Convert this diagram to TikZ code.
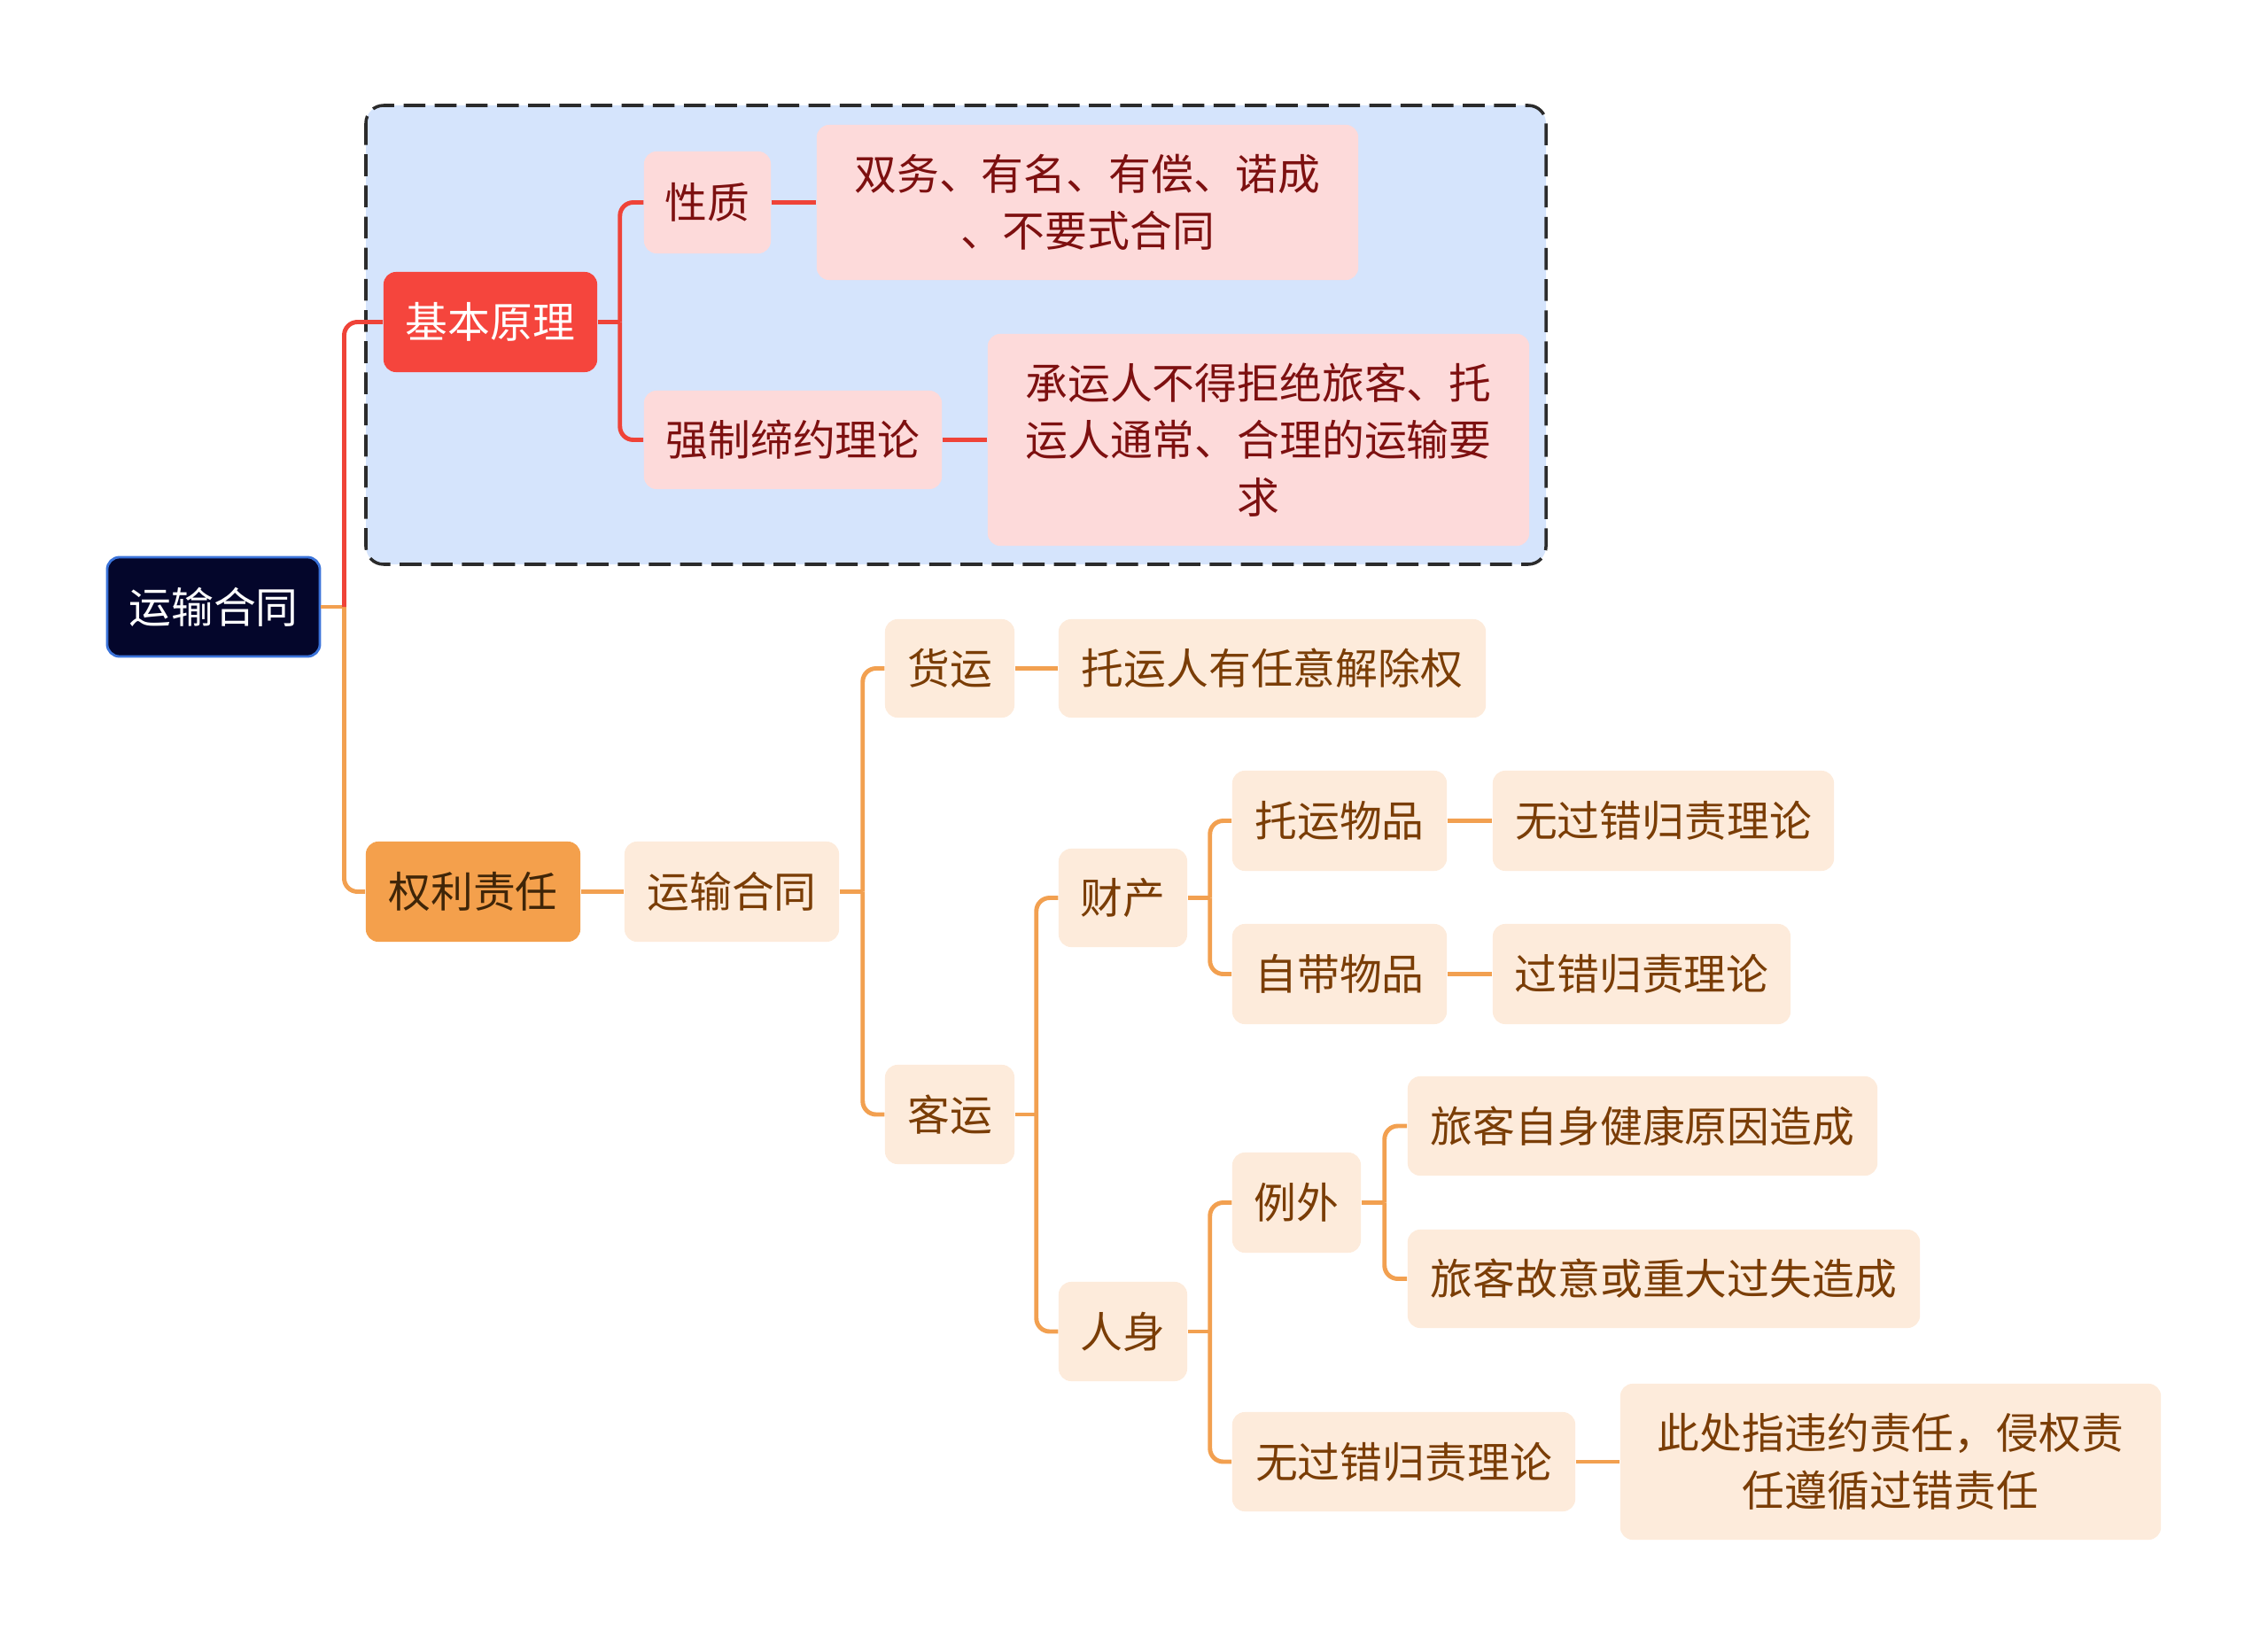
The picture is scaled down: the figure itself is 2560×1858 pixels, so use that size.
\documentclass[tikz,border=0pt]{standalone}
\usepackage{fontspec}
\newfontfamily\cjk{Noto Sans CJK SC}
\definecolor{rootfill}{HTML}{04062B}
\definecolor{rootborder}{HTML}{3B73D9}
\definecolor{redfill}{HTML}{F5453D}
\definecolor{redline}{HTML}{EF4338}
\definecolor{pinkfill}{HTML}{FDDADA}
\definecolor{pinktext}{HTML}{7D1010}
\definecolor{regionfill}{HTML}{D5E4FC}
\definecolor{dashcol}{HTML}{2B2B2B}
\definecolor{orangefill}{HTML}{F4A04C}
\definecolor{orangetext}{HTML}{3F2508}
\definecolor{orangeline}{HTML}{F2A050}
\definecolor{beigefill}{HTML}{FDEBDB}
\definecolor{browntext}{HTML}{7A3D06}
\begin{document}
\begin{tikzpicture}[x=0.01cm,y=-0.01cm,
  base/.style={rounded corners=0.14cm, inner sep=0pt, align=center,
    font=\cjk\fontsize{13.6}{18.3}\selectfont},
  rootbox/.style={base, fill=rootfill, draw=rootborder, line width=0.8pt, text=white},
  redbox/.style={base, fill=redfill, text=white},
  pinkbox/.style={base, fill=pinkfill, text=pinktext},
  orangebox/.style={base, fill=orangefill, text=orangetext},
  beigebox/.style={base, fill=beigefill, text=browntext},
  rline/.style={draw=redline, line width=1.4pt, rounded corners=0.15cm},
  oline/.style={draw=orangeline, line width=1.4pt, rounded corners=0.15cm},
]
\useasboundingbox (0,0) rectangle (2560,1858);
% region
\draw[fill=regionfill, draw=dashcol, line width=1pt, dash pattern=on 7pt off 3pt, rounded corners=0.2cm] (413,119) rectangle (1745,637);

% nodes
\node[rootbox, minimum width=2.40cm, minimum height=1.12cm] (root) at (241,685) {运输合同};
\node[redbox, minimum width=2.41cm, minimum height=1.13cm] (jb) at (553.5,363.5) {基本原理};
\node[pinkbox, minimum width=1.43cm, minimum height=1.15cm] (xz) at (798.5,228.5) {性质};
\node[pinkbox, minimum width=6.11cm, minimum height=1.75cm] (sw) at (1227.5,228.5) {双务、有名、有偿、诺成\\、不要式合同};
\node[pinkbox, minimum width=3.36cm, minimum height=1.11cm] (qz) at (895,496.5) {强制缔约理论};
\node[pinkbox, minimum width=6.11cm, minimum height=2.39cm] (cy) at (1420.5,496.5) {承运人不得拒绝旅客、托\\运人通常、合理的运输要\\求};

\node[orangebox, minimum width=2.42cm, minimum height=1.13cm] (ql) at (534,1006.5) {权利责任};
\node[beigebox, minimum width=2.42cm, minimum height=1.13cm] (ys) at (826,1006.5) {运输合同};
\node[beigebox, minimum width=1.46cm, minimum height=1.11cm] (hy) at (1072,754.5) {货运};
\node[beigebox, minimum width=4.82cm, minimum height=1.11cm] (tyr) at (1436,754.5) {托运人有任意解除权};
\node[beigebox, minimum width=1.46cm, minimum height=1.12cm] (ky) at (1072,1258) {客运};
\node[beigebox, minimum width=1.45cm, minimum height=1.11cm] (cc) at (1267.5,1013.5) {财产};
\node[beigebox, minimum width=2.42cm, minimum height=1.13cm] (tywp) at (1512,926.5) {托运物品};
\node[beigebox, minimum width=3.85cm, minimum height=1.13cm] (wgca) at (1877.5,926.5) {无过错归责理论};
\node[beigebox, minimum width=2.42cm, minimum height=1.13cm] (zdwp) at (1512,1099.5) {自带物品};
\node[beigebox, minimum width=3.36cm, minimum height=1.13cm] (gc) at (1853,1099.5) {过错归责理论};
\node[beigebox, minimum width=1.45cm, minimum height=1.12cm] (rs) at (1267.5,1503) {人身};
\node[beigebox, minimum width=1.45cm, minimum height=1.13cm] (lw) at (1463.5,1357.5) {例外};
\node[beigebox, minimum width=5.30cm, minimum height=1.12cm] (lka) at (1854,1271) {旅客自身健康原因造成};
\node[beigebox, minimum width=5.78cm, minimum height=1.11cm] (lkb) at (1878,1443.5) {旅客故意或重大过失造成};
\node[beigebox, minimum width=3.87cm, minimum height=1.12cm] (wgcb) at (1584.5,1650) {无过错归责理论};
\node[beigebox, minimum width=6.10cm, minimum height=1.76cm] (cz) at (2134,1650) {此处指违约责任，侵权责\\任遵循过错责任};

% connectors
\draw[oline] (root.east) -- ++(26,0) coordinate (rj);
\draw[oline] (rj) |- (ql.west);
\draw[rline] (rj) |- (jb.west);

\draw[rline] (jb.east) -- ++(25,0) coordinate (jbj);
\draw[rline] (jbj) |- (xz.west);
\draw[rline] (jbj) |- (qz.west);
\draw[rline] (xz.east) -- (sw.west);
\draw[rline] (qz.east) -- (cy.west);

\draw[oline] (ql.east) -- (ys.west);
\draw[oline] (ys.east) -- ++(26,0) coordinate (ysj);
\draw[oline] (ysj) |- (hy.west);
\draw[oline] (ysj) |- (ky.west);
\draw[oline] (hy.east) -- (tyr.west);

\draw[oline] (ky.east) -- ++(24,0) coordinate (kyj);
\draw[oline] (kyj) |- (cc.west);
\draw[oline] (kyj) |- (rs.west);

\draw[oline] (cc.east) -- ++(25,0) coordinate (ccj);
\draw[oline] (ccj) |- (tywp.west);
\draw[oline] (ccj) |- (zdwp.west);
\draw[oline] (tywp.east) -- (wgca.west);
\draw[oline] (zdwp.east) -- (gc.west);

\draw[oline] (rs.east) -- ++(25,0) coordinate (rsj);
\draw[oline] (rsj) |- (lw.west);
\draw[oline] (rsj) |- (wgcb.west);
\draw[oline] (wgcb.east) -- (cz.west);

\draw[oline] (lw.east) -- ++(26,0) coordinate (lwj);
\draw[oline] (lwj) |- (lka.west);
\draw[oline] (lwj) |- (lkb.west);
\end{tikzpicture}
\end{document}
